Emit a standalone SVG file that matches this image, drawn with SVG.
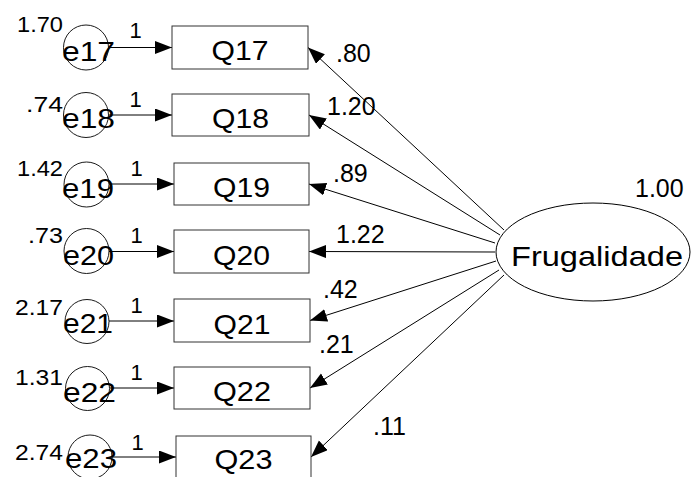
<svg xmlns="http://www.w3.org/2000/svg" width="691" height="477" viewBox="0 0 691 477">
<style>
text{font-family:"Liberation Sans",Arial,sans-serif;fill:#000}
.big{font-size:28.5px}
.sm{font-size:22px}
.co{font-size:25px}
.box{fill:#fff;stroke:#333;stroke-width:1}
.err{fill:none;stroke:#000;stroke-width:0.9}
.lat{fill:#fff;stroke:#000;stroke-width:1}
.ln{stroke:#000;stroke-width:1;fill:none;marker-end:url(#ah)}
</style>
<defs>
<marker id="ah" markerUnits="userSpaceOnUse" markerWidth="19" markerHeight="15" refX="17" refY="6.5" orient="auto">
<path d="M0,0 L17,6.5 L0,13 z" fill="#000"/>
</marker>
</defs>
<rect width="691" height="477" fill="#fff"/>

<g id="connectors">
<line class="ln" x1="109" y1="47.5" x2="172" y2="47.5"/>
<line class="ln" x1="109" y1="115" x2="172" y2="115"/>
<line class="ln" x1="109" y1="184" x2="174" y2="184"/>
<line class="ln" x1="109" y1="251.5" x2="174" y2="251.5"/>
<line class="ln" x1="109" y1="321" x2="174" y2="321"/>
<line class="ln" x1="110" y1="388" x2="174" y2="388"/>
<line class="ln" x1="112" y1="457" x2="176" y2="457"/>
<line class="ln" x1="504" y1="230" x2="308" y2="47.5"/>
<line class="ln" x1="500" y1="235" x2="309" y2="115"/>
<line class="ln" x1="495" y1="243" x2="309" y2="184"/>
<line class="ln" x1="495" y1="252" x2="309" y2="251.5"/>
<line class="ln" x1="496" y1="261" x2="310" y2="320.5"/>
<line class="ln" x1="499" y1="270" x2="310" y2="388"/>
<line class="ln" x1="504" y1="275" x2="311" y2="457"/>
<text class="sm" x="129.6" y="38">1</text>
<text class="sm" x="129.6" y="107">1</text>
<text class="sm" x="130.6" y="176">1</text>
<text class="sm" x="130.6" y="243">1</text>
<text class="sm" x="130.6" y="313">1</text>
<text class="sm" x="130.6" y="380">1</text>
<text class="sm" x="131.6" y="450">1</text>
<text class="co" x="336" y="62">.80</text>
<text class="co" x="327" y="115">1.20</text>
<text class="co" x="333" y="182">.89</text>
<text class="co" x="336" y="243">1.22</text>
<text class="co" x="323" y="298">.42</text>
<text class="co" x="319" y="353">.21</text>
<text class="co" x="373" y="435">.11</text>
</g>

<g id="e17"><circle class="err" cx="86" cy="47.5" r="22.5"/><text class="sm" x="63" y="32" text-anchor="end" textLength="46" lengthAdjust="spacingAndGlyphs">1.70</text><text class="big" x="62" y="61" textLength="53" lengthAdjust="spacingAndGlyphs">e17</text></g>
<g id="e18"><circle class="err" cx="86" cy="115" r="22.5"/><text class="sm" x="63" y="112" text-anchor="end" textLength="37" lengthAdjust="spacingAndGlyphs">.74</text><text class="big" x="62" y="128" textLength="53" lengthAdjust="spacingAndGlyphs">e18</text></g>
<g id="e19"><circle class="err" cx="86.5" cy="184.5" r="22.5"/><text class="sm" x="63" y="176" text-anchor="end" textLength="46" lengthAdjust="spacingAndGlyphs">1.42</text><text class="big" x="62" y="198" textLength="52" lengthAdjust="spacingAndGlyphs">e19</text></g>
<g id="e20"><circle class="err" cx="86.5" cy="251" r="22.5"/><text class="sm" x="63" y="243" text-anchor="end" textLength="35" lengthAdjust="spacingAndGlyphs">.73</text><text class="big" x="63" y="265" textLength="51" lengthAdjust="spacingAndGlyphs">e20</text></g>
<g id="e21"><circle class="err" cx="87" cy="321.5" r="22"/><text class="sm" x="63" y="315" text-anchor="end" textLength="48" lengthAdjust="spacingAndGlyphs">2.17</text><text class="big" x="63" y="333" textLength="50" lengthAdjust="spacingAndGlyphs">e21</text></g>
<g id="e22"><circle class="err" cx="87.5" cy="388.5" r="22"/><text class="sm" x="63" y="385" text-anchor="end" textLength="48" lengthAdjust="spacingAndGlyphs">1.31</text><text class="big" x="63" y="402" textLength="53" lengthAdjust="spacingAndGlyphs">e22</text></g>
<g id="e23"><circle class="err" cx="90" cy="457" r="22"/><text class="sm" x="63" y="460" text-anchor="end" textLength="48" lengthAdjust="spacingAndGlyphs">2.74</text><text class="big" x="65" y="468" textLength="52" lengthAdjust="spacingAndGlyphs">e23</text></g>

<g id="Q17"><rect class="box" x="172" y="26" width="136" height="43"/><text class="big" x="240" y="60" text-anchor="middle" textLength="57" lengthAdjust="spacingAndGlyphs">Q17</text></g>
<g id="Q18"><rect class="box" x="172" y="94" width="137" height="42"/><text class="big" x="240.5" y="128" text-anchor="middle" textLength="57" lengthAdjust="spacingAndGlyphs">Q18</text></g>
<g id="Q19"><rect class="box" x="174" y="163" width="135" height="42"/><text class="big" x="241.5" y="197" text-anchor="middle" textLength="57" lengthAdjust="spacingAndGlyphs">Q19</text></g>
<g id="Q20"><rect class="box" x="174" y="230" width="135" height="43"/><text class="big" x="241.5" y="265" text-anchor="middle" textLength="57" lengthAdjust="spacingAndGlyphs">Q20</text></g>
<g id="Q21"><rect class="box" x="174" y="299" width="136" height="43"/><text class="big" x="242" y="334" text-anchor="middle" textLength="57" lengthAdjust="spacingAndGlyphs">Q21</text></g>
<g id="Q22"><rect class="box" x="174" y="367" width="136" height="42"/><text class="big" x="242" y="401" text-anchor="middle" textLength="58" lengthAdjust="spacingAndGlyphs">Q22</text></g>
<g id="Q23"><rect class="box" x="176" y="436" width="135" height="44"/><text class="big" x="243.5" y="469" text-anchor="middle" textLength="58" lengthAdjust="spacingAndGlyphs">Q23</text></g>

<g id="Frugalidade"><ellipse class="lat" cx="593" cy="252" rx="97" ry="49"/><text class="big" x="511" y="266" textLength="172" lengthAdjust="spacingAndGlyphs">Frugalidade</text><text class="co" x="635" y="197">1.00</text></g>
</svg>
